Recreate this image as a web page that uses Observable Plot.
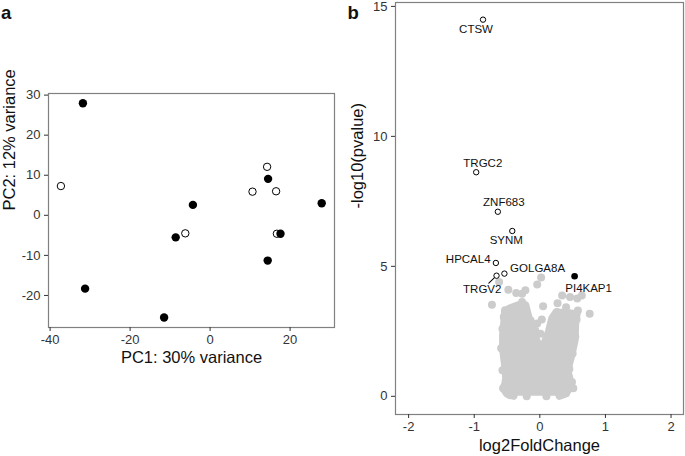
<!DOCTYPE html>
<html><head><meta charset="utf-8">
<script src="https://cdn.jsdelivr.net/npm/d3@7"></script>
<script src="https://cdn.jsdelivr.net/npm/@observablehq/plot@0.6"></script>
<style>
body{margin:0;background:#fff;width:685px;height:456px;overflow:hidden;position:relative;font-family:"Liberation Sans",Arial,sans-serif}
#pa{position:absolute;left:0;top:0}
#pb{position:absolute;left:340px;top:0}
</style></head><body>
<div id="pa"></div><div id="pb"></div>
<script>
// ---------- Panel a: PCA ----------
const pcaPC1 = [-31.8, -31.25, -11.5, -8.6, -4.3, 14.5, 17.6, 14.4, 27.9, -37.3, -6.2, 10.6, 14.25, 16.5, 16.7];
const pcaPC2 = [27.95, -18.3, -25.5, -5.5, 2.6, 9.1, -4.6, -11.3, 3.0, 7.3, -4.5, 5.9, 12.1, 6.0, -4.6];
const pcaGroup = ["filled","filled","filled","filled","filled","filled","filled","filled","filled","open","open","open","open","open","open"];
const pcaXTicks = [-40, -20, 0, 20];
const pcaYTicks = [-20, -10, 0, 10, 20, 30];
const pcaXLabel = "PC1: 30% variance";
const pcaYLabel = "PC2: 12% variance";

// ---------- Panel b: volcano ----------
const geneNames = ["CTSW","TRGC2","ZNF683","SYNM","HPCAL4","TRGV2","GOLGA8A","PI4KAP1"];
const geneLFC   = [-0.866, -0.97, -0.64, -0.42, -0.67, -0.66, -0.54, 0.53];
const geneP     = [14.49, 8.62, 7.10, 6.36, 5.13, 4.64, 4.72, 4.62];
const geneDir   = ["down","down","down","down","down","down","down","up"];
// sparse grey genes around the dense cloud
const cloudLFC = [0.02,-0.04,-0.48,-0.36,-0.27,-0.22,-0.73,-0.53,-0.27,-0.25,0.05,0.26,0.46,0.57,0.64,0.76,0.40,0.34,0.27,-0.14,-0.04,0.03,-0.07,0.01,-0.62,
  -0.56,-0.45,0.51,0.40,-0.57,-0.59,-0.57,-0.55,0.56,0.54,0.50,0.45,0.49,-0.2,0.1,-0.52,0.58];
const cloudP   = [4.57,4.30,4.10,3.97,3.95,4.08,3.52,3.31,3.63,3.43,3.46,3.24,3.82,3.76,3.88,3.18,3.43,3.88,3.58,2.92,2.80,2.95,2.54,2.41,4.40,
  0.31,0.04,0.31,0.12,1.0,1.85,2.6,3.05,2.95,2.3,1.65,1.05,0.55,0.0,0.0,0.6,3.3];
// outline of the dense (overplotted) grey core of the cloud
const coreLFC = [-0.40,-0.50,-0.55,-0.51,-0.53,-0.56,-0.56,-0.54,-0.53,-0.46,-0.33,-0.22,-0.19,-0.13,0.02,0.14,0.19,0.25,0.45,0.56,0.54,0.53,0.48,0.42,0.48,0.38,0.30];
const coreP   = [0.02,0.10,0.30,0.62,1.2,1.8,2.35,2.9,3.25,3.38,3.5,3.5,3.2,2.65,1.7,2.5,3.0,3.22,3.2,3.15,2.85,2.15,1.58,1.0,0.38,0.1,0.02];
const volXTicks = [-2, -1, 0, 1, 2];
const volYTicks = [0, 5, 10, 15];
const volXLabel = "log2FoldChange";
const volYLabel = "-log10(pvalue)";

const FONT = "Liberation Sans, Arial, Helvetica, sans-serif";
const fmt = d => String(d);

const pca = pcaPC1.map((x, i) => ({x, y: pcaPC2[i], g: pcaGroup[i]}));
const genes = geneNames.map((name, i) => ({name, x: geneLFC[i], y: geneP[i], dir: geneDir[i]}));
const cloud = cloudLFC.map((x, i) => ({x, y: cloudP[i]}));
const core = coreLFC.map((x, i) => ({x, y: coreP[i]}));

const plotA = Plot.plot({
  width: 340, height: 370,
  marginLeft: 48, marginRight: 6, marginTop: 93, marginBottom: 43,
  style: {fontFamily: FONT, fontSize: "13px", background: "white", overflow: "visible"},
  x: {domain: [-40.4, 31.1]},
  y: {domain: [-28, 30.4]},
  marks: [
    Plot.frame({stroke: "#808080", strokeWidth: 1.2}),
    Plot.axisX({ticks: pcaXTicks, tickFormat: fmt, tickSize: 4, tickPadding: 3, label: null, color: "#333", fontSize: 13}),
    Plot.axisY({ticks: pcaYTicks, tickFormat: fmt, tickSize: 4, tickPadding: 4, label: null, color: "#333", fontSize: 13}),
    Plot.dot(pca.filter(d => d.g === "open"), {x: "x", y: "y", r: 3.7, fill: "white", stroke: "black", strokeWidth: 1}),
    Plot.dot(pca.filter(d => d.g === "filled"), {x: "x", y: "y", r: 4.2, fill: "black", stroke: "none"}),
    Plot.text([pcaXLabel], {text: d => d, frameAnchor: "bottom", dy: 30.7, lineAnchor: "middle", fontSize: 16.5, fill: "#111"}),
    Plot.text([pcaYLabel], {text: d => d, frameAnchor: "left", dx: -39, rotate: -90, lineAnchor: "middle", fontSize: 16.5, fill: "#111"}),
    Plot.text(["a"], {text: d => d, frameAnchor: "top-left", dx: -47.5, dy: -74.7, textAnchor: "start", lineAnchor: "bottom", fontSize: 18.5, fontWeight: "bold", fill: "#111"})
  ]
});
document.getElementById("pa").append(plotA);

const labelStyle = {
  CTSW:    {dx: -7,   dy: 10,   anchor: "middle"},
  TRGC2:   {dx: 6.6,  dy: -9,   anchor: "middle"},
  ZNF683:  {dx: 6,    dy: -9,   anchor: "middle"},
  SYNM:    {dx: -6,   dy: 9.3,  anchor: "middle"},
  HPCAL4:  {dx: -5.3, dy: -3.4, anchor: "end"},
  TRGV2:   {dx: -14.3,dy: 14,   anchor: "middle"},
  GOLGA8A: {dx: 5.7,  dy: -5,   anchor: "start"},
  PI4KAP1: {dx: 14,   dy: 12,   anchor: "middle"}
};
const segShape = {draw(ctx, l) { ctx.moveTo(0, 0); ctx.lineTo(0, -l); }};

const plotB = Plot.plot({
  width: 345, height: 456,
  marginLeft: 55, marginRight: 2, marginTop: 2, marginBottom: 42,
  style: {fontFamily: FONT, fontSize: "13px", background: "white", overflow: "visible"},
  x: {domain: [-2.2, 2.19]},
  y: {domain: [-0.7, 15.15]},
  marks: [
    Plot.frame({stroke: "#808080", strokeWidth: 1.2}),
    Plot.axisX({ticks: volXTicks, tickFormat: fmt, tickSize: 4, tickPadding: 3, label: null, color: "#333", fontSize: 13}),
    Plot.axisY({ticks: volYTicks, tickFormat: fmt, tickSize: 4, tickPadding: 4, label: null, color: "#333", fontSize: 13}),
    Plot.line(core, {x: "x", y: "y", fill: "#cccccc", stroke: "#cccccc", strokeWidth: 8, strokeLinejoin: "round", curve: "linear"}),
    Plot.dot(cloud, {x: "x", y: "y", r: 4, fill: "#cccccc", stroke: "none"}),
    Plot.vector(genes.filter(d => d.name === "TRGV2"), {x: "x", y: "y", length: 10.7, rotate: 226, anchor: "start", shape: segShape, stroke: "black", strokeWidth: 1}),
    Plot.dot(genes.filter(d => d.dir === "down"), {x: "x", y: "y", r: 2.7, fill: "white", stroke: "black", strokeWidth: 1}),
    Plot.dot(genes.filter(d => d.dir === "up"), {x: "x", y: "y", r: 3.3, fill: "black", stroke: "none"}),
    ...genes.map(g => Plot.text([g], {x: "x", y: "y", text: "name", dx: labelStyle[g.name].dx, dy: labelStyle[g.name].dy,
      textAnchor: labelStyle[g.name].anchor, lineAnchor: "middle", fontSize: 11.5, fill: "#111"})),
    Plot.text([volXLabel], {text: d => d, frameAnchor: "bottom", dy: 31, lineAnchor: "middle", fontSize: 16.5, fill: "#111"}),
    Plot.text([volYLabel], {text: d => d, frameAnchor: "left", dx: -37.5, rotate: -90, lineAnchor: "middle", fontSize: 16.5, fill: "#111"}),
    Plot.text(["b"], {text: d => d, frameAnchor: "top-left", dx: -48, dy: 16.3, textAnchor: "start", lineAnchor: "bottom", fontSize: 18.5, fontWeight: "bold", fill: "#111"})
  ]
});
document.getElementById("pb").append(plotB);
</script></body></html>
